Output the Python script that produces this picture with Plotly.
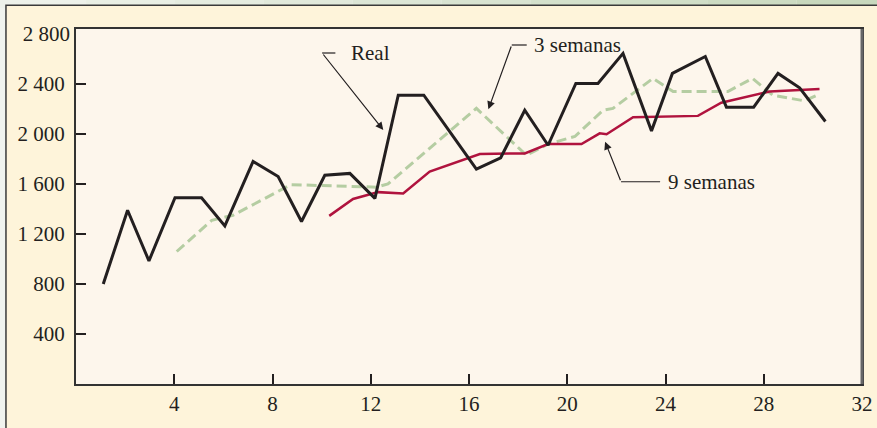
import plotly.graph_objects as go

# Weekly demand (Real) and moving-average forecasts, positions along the week axis
semana_real = [1.11, 2.10, 2.97, 4.03, 5.11, 6.06, 7.21, 8.23, 9.18, 10.13,
               11.15, 12.17, 13.12, 14.16, 15.23, 16.30, 17.29, 18.27, 19.22, 20.35,
               21.25, 22.27, 23.43, 24.28, 25.62, 26.48, 27.59, 28.58, 29.46, 30.51]
real = [800, 1390, 985, 1490, 1490, 1265, 1780, 1660, 1300, 1670,
        1685, 1485, 2310, 2310, 2015, 1720, 1810, 2190, 1910, 2405,
        2405, 2645, 2025, 2485, 2620, 2215, 2215, 2485, 2370, 2100]

semana_3 = [4.10, 5.53, 6.39, 8.75, 12.24, 12.70, 16.30, 18.34, 19.22, 20.31,
            21.46, 21.86, 23.49, 24.31, 26.54, 27.54, 28.37, 29.66, 30.27]
prom_3 = [1060, 1310, 1350, 1595, 1575, 1600, 2205, 1830, 1920, 1980,
          2190, 2205, 2445, 2340, 2340, 2445, 2310, 2265, 2320]

semana_9 = [10.31, 11.28, 12.30, 13.32, 14.40, 16.44, 18.27, 19.22, 20.58, 21.32,
            21.60, 22.68, 25.32, 26.27, 28.24, 30.27]
prom_9 = [1345, 1480, 1535, 1525, 1700, 1840, 1845, 1920, 1920, 2005,
          1998, 2135, 2145, 2250, 2340, 2360]

x_ticks = [4, 8, 12, 16, 20, 24, 28, 32]
y_ticks = [400, 800, 1200, 1600, 2000, 2400]
y_text = ["400", "800", "1 200", "1 600", "2 000", "2 400"]

FONT = "Liberation Serif, Times New Roman, serif"
INK = "#231F20"

fig = go.Figure()
fig.add_trace(go.Scatter(x=semana_3, y=prom_3, mode="lines",
                         line=dict(color="#B5CDA2", width=3, dash="10px,5px"),
                         showlegend=False, hoverinfo="skip"))
fig.add_trace(go.Scatter(x=semana_9, y=prom_9, mode="lines",
                         line=dict(color="#B0133E", width=2.5),
                         showlegend=False, hoverinfo="skip"))
fig.add_trace(go.Scatter(x=semana_real, y=real, mode="lines",
                         line=dict(color=INK, width=3),
                         showlegend=False, hoverinfo="skip"))
# invisible trace to carry the secondary axis (2 800 label)
fig.add_trace(go.Scatter(x=[None], y=[None], yaxis="y2", showlegend=False))

shapes = []
# top strip, shaded from light grey-green to sage
strip_cols = ["#EDF1EA", "#E9EFE5", "#E5ECE0", "#E1E9DB", "#DCE6D6", "#D8E3D1",
              "#D4E1CC", "#D0DEC7", "#CCDBC2", "#C8D8BD"]
n = len(strip_cols)
x_left, x_right = -0.1, 1.03
for i, c in enumerate(strip_cols):
    shapes.append(dict(type="rect", xref="paper", yref="paper",
                       x0=x_left + (x_right - x_left) * i / n,
                       x1=x_left + (x_right - x_left) * (i + 1) / n,
                       y0=1.06, y1=1.1, fillcolor=c, line=dict(width=0), layer="below"))
# cream panel with dark frame
shapes.append(dict(type="rect", xref="paper", yref="paper",
                   x0=-0.0891, x1=1.06, y0=-0.2, y1=1.0668,
                   fillcolor="#FEF4DA", line=dict(color="#3A3A3A", width=1.5), layer="below"))
# plot area fill
shapes.append(dict(type="rect", xref="paper", yref="paper",
                   x0=0, x1=1, y0=0, y1=1,
                   fillcolor="#FDF6EC", line=dict(width=0), layer="below"))
# right edge of the plot box (grey, heavier)
shapes.append(dict(type="line", xref="paper", yref="paper",
                   x0=1, x1=1, y0=0, y1=1, line=dict(color="#666666", width=3)))

annotations = []
# leader lines: (tail_x, tail_y, elbow_x, tip_x, tip_y, label, text_x)
leaders = [
    (10.02, 2648, 10.56, 12.51, 2032, "Real", 11.11),
    (17.74, 2712, 18.35, 16.79, 2198, "3 semanas", 18.55),
    (22.19, 1618, 23.78, 21.54, 1938, "9 semanas", 24.0),
]
for tx, ty, ex, hx, hy, label, lx in leaders:
    shapes.append(dict(type="line", xref="x", yref="y", x0=tx, x1=ex, y0=ty, y1=ty,
                       line=dict(color=INK, width=1.2)))
    annotations.append(dict(x=hx, y=hy, ax=tx, ay=ty, axref="x", ayref="y",
                            xref="x", yref="y", text="", showarrow=True,
                            arrowhead=2, arrowsize=1.3, arrowwidth=1.2,
                            arrowcolor=INK, standoff=0, startstandoff=0))
    annotations.append(dict(x=lx, y=ty, xref="x", yref="y", text=label,
                            showarrow=False, xanchor="left", yanchor="middle",
                            font=dict(family=FONT, size=21, color=INK)))

fig.update_layout(
    width=877, height=428, autosize=False,
    margin=dict(l=76, r=15, t=29, b=44, autoexpand=False),
    paper_bgcolor="#F0F3EE",
    plot_bgcolor="rgba(0,0,0,0)",
    font=dict(family=FONT, size=21, color=INK),
    shapes=shapes,
    annotations=annotations,
    xaxis=dict(range=[0, 32], tickvals=x_ticks, ticks="inside", ticklen=10,
               tickwidth=1.5, tickcolor=INK, showgrid=False, zeroline=False,
               showline=True, linecolor="#333333", linewidth=2, mirror=True,
               ticklabelstandoff=0, automargin=False),
    yaxis=dict(range=[0, 2840], tickvals=y_ticks, ticktext=y_text, ticks="inside",
               ticklen=10, tickwidth=1.5, tickcolor=INK, showgrid=False,
               zeroline=False, showline=True, linecolor="#333333", linewidth=2,
               mirror=True, ticklabelstandoff=5, automargin=False),
    yaxis2=dict(range=[0, 2840], tickvals=[2800], ticktext=["2 800"], ticks="",
                overlaying="y", side="left", showgrid=False, zeroline=False,
                showline=False, ticklabelstandoff=5, automargin=False),
)

fig.write_html("out.html")
